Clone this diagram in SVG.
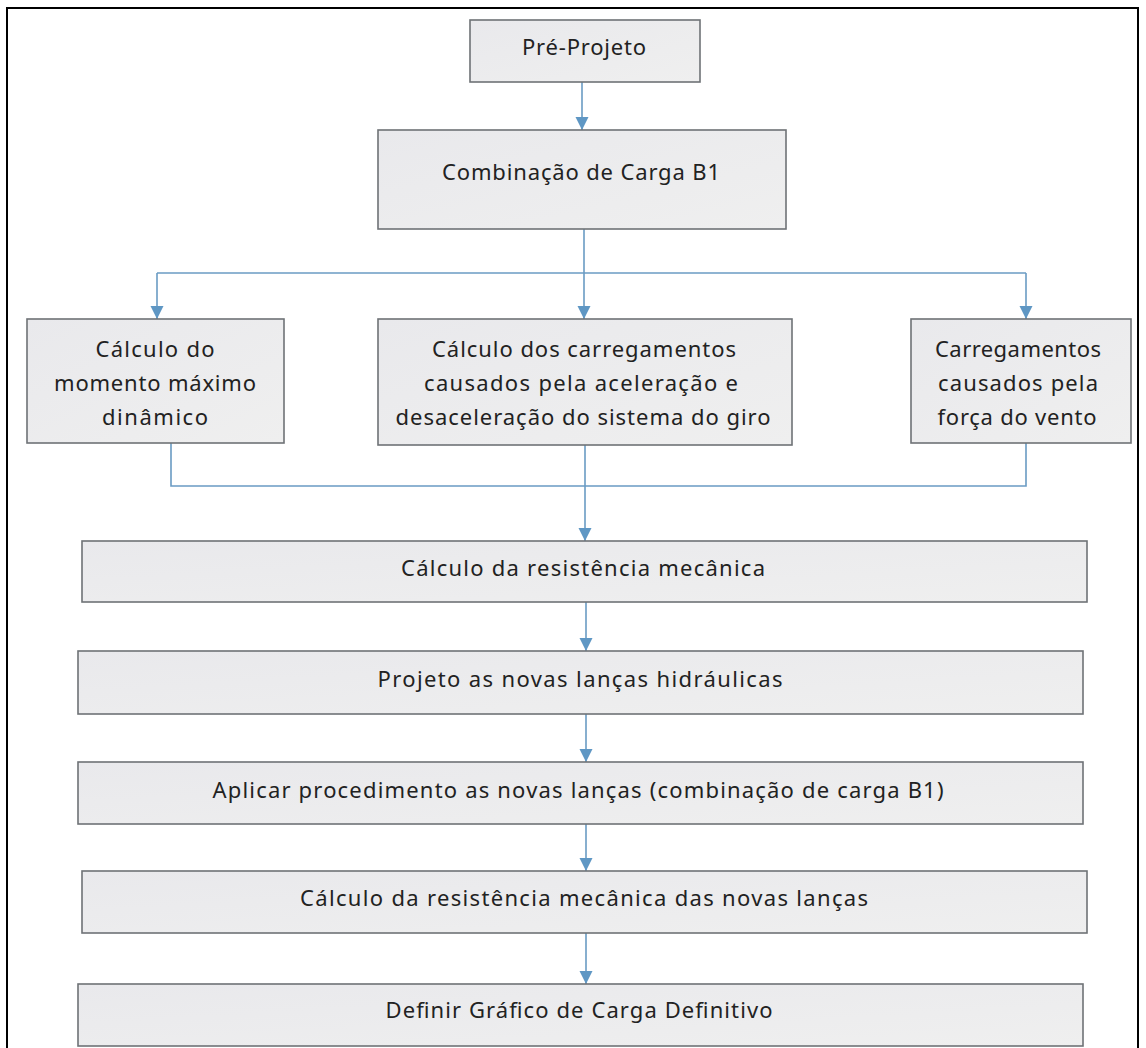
<svg xmlns="http://www.w3.org/2000/svg" width="1146" height="1048" viewBox="0 0 1146 1048">
<defs>
<linearGradient id="g" x1="0" y1="0" x2="1" y2="1">
<stop offset="0" stop-color="#e9e9ec"/>
<stop offset="1" stop-color="#efefef"/>
</linearGradient>
<marker id="ah" markerUnits="userSpaceOnUse" markerWidth="14" markerHeight="14" viewBox="0 0 14 14" refX="13" refY="7" orient="auto">
<path d="M0,0.5 L13,7 L0,13.5 Z" fill="#5f97c4"/>
</marker>
<style>
.box{fill:url(#g);stroke:#6e7276;stroke-width:1.6}
.t{font-family:"Noto Sans","DejaVu Sans",sans-serif;font-size:22px;fill:#222;text-anchor:middle;dominant-baseline:central}
.c{fill:none;stroke:#6a9bc3;stroke-width:1.6}
.a{marker-end:url(#ah)}
.frame{fill:none;stroke:#000;stroke-width:2}
</style>
</defs>
<rect width="1146" height="1048" fill="#fff"/>
<path class="frame" d="M7,1048 V8 H1138 V1048"/>
<g id="connectors">
<path class="c a" d="M582,82 V130"/>
<path class="c" d="M157,273 H1026"/>
<path class="c a" d="M584,229 V319"/>
<path class="c a" d="M157,273 V319"/>
<path class="c a" d="M1026,273 V319"/>
<path class="c" d="M171,443 V486 H1026 V443"/>
<path class="c a" d="M585,445 V541"/>
<path class="c a" d="M586,602 V651"/>
<path class="c a" d="M586,714 V762"/>
<path class="c a" d="M586,824 V871"/>
<path class="c a" d="M586,933 V984"/>
</g>
<g id="n1"><rect class="box" x="470" y="20" width="230" height="62"/><text class="t" x="584" y="46" textLength="124" lengthAdjust="spacing">Pré-Projeto</text></g>
<g id="n2"><rect class="box" x="378" y="130" width="408" height="99"/><text class="t" x="581" y="171" textLength="278" lengthAdjust="spacing">Combinação de Carga B1</text></g>
<g id="n3"><rect class="box" x="27" y="319" width="257" height="124"/>
<text class="t" x="155" y="348" textLength="119" lengthAdjust="spacing">Cálculo do</text>
<text class="t" x="155" y="382" textLength="202" lengthAdjust="spacing">momento  máximo</text>
<text class="t" x="155" y="416" textLength="106" lengthAdjust="spacing">dinâmico</text></g>
<g id="n4"><rect class="box" x="378" y="319" width="414" height="126"/>
<text class="t" x="584" y="348" textLength="304" lengthAdjust="spacing">Cálculo dos carregamentos</text>
<text class="t" x="581" y="382" textLength="314" lengthAdjust="spacing">causados pela aceleração e</text>
<text class="t" x="583" y="416" textLength="375" lengthAdjust="spacing">desaceleração do sistema do giro</text></g>
<g id="n5"><rect class="box" x="911" y="319" width="220" height="124"/>
<text class="t" x="1018" y="348" textLength="166" lengthAdjust="spacing">Carregamentos</text>
<text class="t" x="1018" y="382" textLength="160" lengthAdjust="spacing">causados pela</text>
<text class="t" x="1017" y="416" textLength="159" lengthAdjust="spacing">força do vento</text></g>
<g id="n6"><rect class="box" x="82" y="541" width="1005" height="61"/><text class="t" x="583" y="567" textLength="364" lengthAdjust="spacing">Cálculo da resistência mecânica</text></g>
<g id="n7"><rect class="box" x="78" y="651" width="1005" height="63"/><text class="t" x="580" y="678" textLength="405" lengthAdjust="spacing">Projeto as novas lanças hidráulicas</text></g>
<g id="n8"><rect class="box" x="78" y="762" width="1005" height="62"/><text class="t" x="578" y="789" textLength="731" lengthAdjust="spacing">Aplicar procedimento as novas lanças (combinação de carga B1)</text></g>
<g id="n9"><rect class="box" x="82" y="871" width="1005" height="62"/><text class="t" x="584" y="897" textLength="568" lengthAdjust="spacing">Cálculo da resistência mecânica das novas lanças</text></g>
<g id="n10"><rect class="box" x="78" y="984" width="1005" height="62"/><text class="t" x="579" y="1009" textLength="387" lengthAdjust="spacing">Definir Gráfico de Carga Definitivo</text></g>
</svg>
